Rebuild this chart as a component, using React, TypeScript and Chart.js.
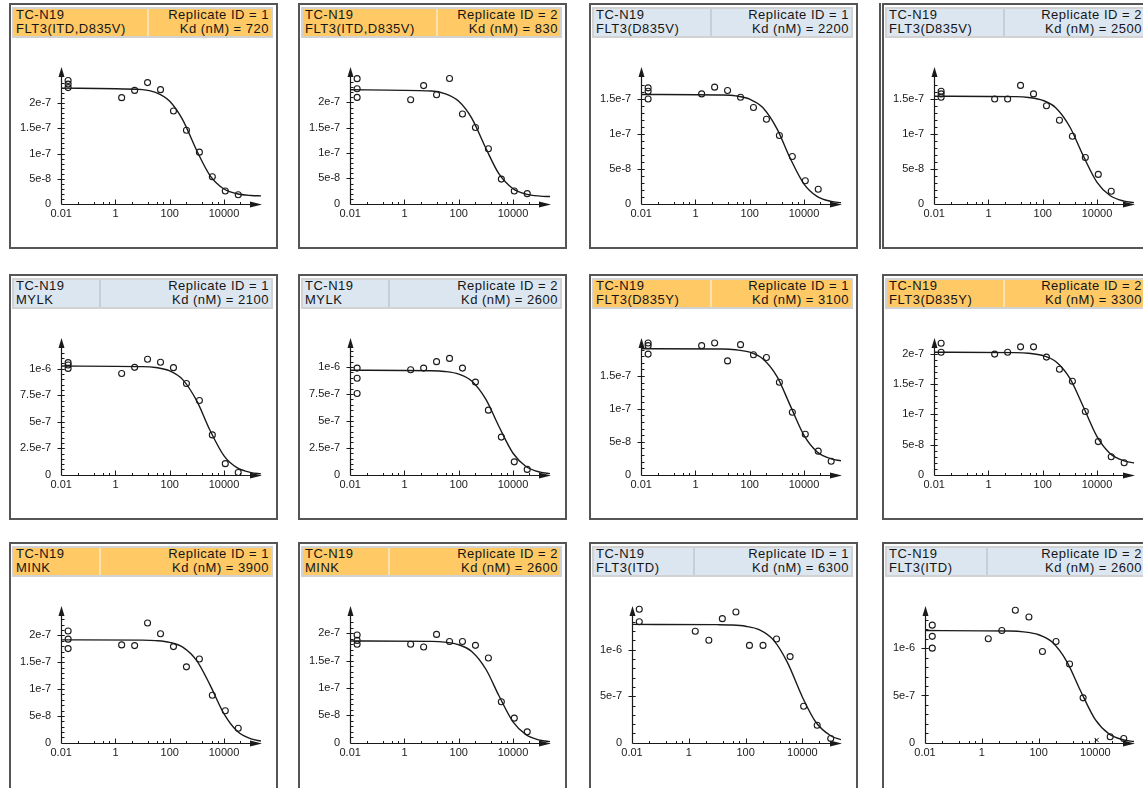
import React, { useEffect, useRef } from 'react';
import { Chart, registerables } from 'chart.js';

Chart.register(...registerables);

if (typeof document !== 'undefined') {
  document.body.style.margin = '0';
  document.body.style.overflow = 'hidden';
}

const FONT = '"Liberation Sans", Arial, sans-serif';
Chart.defaults.font.family = FONT;

// ---------- data ----------
const COMPOUND = 'TC-N19';
const GENES = [
  'FLT3(ITD,D835V)', 'FLT3(ITD,D835V)', 'FLT3(D835V)', 'FLT3(D835V)',
  'MYLK', 'MYLK', 'FLT3(D835Y)', 'FLT3(D835Y)',
  'MINK', 'MINK', 'FLT3(ITD)', 'FLT3(ITD)',
];
const REPLICATES = [1, 2, 1, 2, 1, 2, 1, 2, 1, 2, 1, 2];
const KD_NM = [720, 830, 2200, 2500, 2100, 2600, 3100, 3300, 3900, 2600, 6300, 2600];
const HIGHLIGHTED = [true, true, false, false, false, false, true, true, true, true, false, false];

// signal values are in units of 1e-7
const UNIT = 1e-7;
const CONTROL_X = 0.018;
const DOSES = [1.69, 5.08, 15.2, 45.7, 137, 412, 1235, 3704, 11111, 33333, 100000];
const CURVE_X = [0.01, 10, 30, 100, 300, 1000, 3000, 10000, 30000, 100000, 230000];
const X_TICKS = [0.01, 1, 100, 10000];
const X_MIN = 0.01;
const X_MAX = 230000;

const CONTROLS: number[][] = [
  [2.45, 2.38, 2.31],
  [2.47, 2.27, 2.10],
  [1.665, 1.617, 1.505],
  [1.617, 1.578, 1.529],
  [10.57, 10.35, 10.03],
  [9.9, 8.96, 7.55],
  [2.0, 1.959, 1.831],
  [2.18, 2.03],
  [2.082, 1.931, 1.755],
  [1.97, 1.87, 1.80],
  [14.36, 13.02],
  [12.43, 11.25, 10.0],
];

const SIGNALS: (number | null)[][] = [
  [2.11, 2.255, 2.41, 2.27, 1.845, 1.463, 1.027, 0.537, 0.255, 0.181, null],
  [2.053, 2.333, 2.153, 2.473, 1.773, 1.507, 1.087, 0.487, 0.253, 0.20, null],
  [1.578, 1.675, 1.626, 1.529, 1.383, 1.214, 0.981, 0.680, 0.33, 0.209, null],
  [1.505, 1.505, 1.70, 1.578, 1.408, 1.199, 0.971, 0.665, 0.422, 0.180, null],
  [9.55, 10.13, 10.89, 10.61, 10.10, 8.6, 7.01, 3.76, 1.05, 0.22, null],
  [9.75, 9.9, 10.5, 10.8, 9.9, 8.6, 6.0, 3.5, 1.2, 0.5, null],
  [1.959, 2.0, 1.728, 1.974, 1.821, 1.779, 1.405, 0.949, 0.615, 0.359, 0.205],
  [2.0, 2.03, 2.12, 2.12, 1.95, 1.75, 1.55, 1.05, 0.55, 0.3, 0.2],
  [1.824, 1.811, 2.233, 2.031, 1.792, 1.415, 1.56, 0.887, 0.597, 0.27, null],
  [1.8, 1.75, 1.98, 1.85, 1.85, 1.78, 1.55, 0.75, 0.45, 0.2, null],
  [12.0, 11.02, 13.35, 14.07, 10.47, 10.47, 11.16, 9.27, 3.93, 1.89, 0.47],
  [11.0, 11.86, 14.0, 13.29, 9.64, 10.71, 8.32, 4.75, null, 0.64, 0.46],
];

// excluded (x-marked) points: panel index, dose index, value
const EXCLUDED = [{ panel: 11, dose: 8, value: 0.29 }];

// fitted curves read at CURVE_X
const CURVES: number[][] = [
  [2.30, 2.27, 2.214, 2.038, 1.668, 1.051, 0.567, 0.294, 0.200, 0.165, 0.157],
  [2.25, 2.225, 2.176, 2.022, 1.69, 1.095, 0.594, 0.297, 0.192, 0.152, 0.143],
  [1.57, 1.562, 1.55, 1.502, 1.382, 1.079, 0.664, 0.283, 0.107, 0.034, 0.015],
  [1.545, 1.539, 1.527, 1.486, 1.38, 1.103, 0.702, 0.309, 0.119, 0.038, 0.017],
  [10.25, 10.2, 10.11, 9.79, 8.97, 6.94, 4.22, 1.78, 0.67, 0.21, 0.09],
  [9.7, 9.66, 9.59, 9.34, 8.70, 7.0, 4.5, 2.0, 0.77, 0.246, 0.109],
  [1.913, 1.908, 1.896, 1.86, 1.761, 1.493, 1.065, 0.598, 0.351, 0.242, 0.213],
  [2.03, 2.024, 2.013, 1.976, 1.876, 1.597, 1.145, 0.631, 0.354, 0.23, 0.196],
  [1.918, 1.912, 1.903, 1.87, 1.782, 1.527, 1.084, 0.539, 0.221, 0.072, 0.032],
  [1.86, 1.853, 1.839, 1.791, 1.668, 1.343, 0.863, 0.383, 0.148, 0.047, 0.021],
  [12.73, 12.7, 12.67, 12.53, 12.16, 10.99, 8.62, 4.93, 2.21, 0.755, 0.34],
  [11.86, 11.81, 11.72, 11.42, 10.64, 8.56, 5.5, 2.44, 0.945, 0.30, 0.133],
];

const Y_MAX = [2.70, 2.68, 1.95, 1.95, 12.8, 12.6, 2.06, 2.25, 2.53, 2.48, 14.6, 14.35];
const Y_TICKS: number[][] = [
  [0, 0.5, 1, 1.5, 2],
  [0, 0.5, 1, 1.5, 2],
  [0, 0.5, 1, 1.5],
  [0, 0.5, 1, 1.5],
  [0, 2.5, 5, 7.5, 10],
  [0, 2.5, 5, 7.5, 10],
  [0, 0.5, 1, 1.5],
  [0, 0.5, 1, 1.5, 2],
  [0, 0.5, 1, 1.5, 2],
  [0, 0.5, 1, 1.5, 2],
  [0, 5, 10],
  [0, 5, 10],
];

// ---------- layout / style ----------
const INK = '#1a1a1a';
const ORANGE = '#FFC966';
const ORANGE_DIV = '#FFE3AE';
const BLUE = '#DCE6F1';
const BLUE_DIV = '#C5CFDA';
const COL_LEFT = [9, 298, 589, 882];
const ROW_TOP = [3, 274, 542];
const ROW_H = [246, 246, 262];
const PANEL_W = 269;

function fmtY(v: number) {
  if (v === 0) return '0';
  return Number((v * UNIT).toPrecision(3)).toExponential();
}

const axisDecor = {
  id: 'axisDecor',
  afterDatasetsDraw(chart: any) {
    const { ctx, chartArea: a, scales } = chart;
    const xs = scales.x;
    const ys = scales.y;
    const idx = chart.options.plugins.axisDecor.panel as number;
    const L = Math.round(a.left) + 0.5;
    const B = Math.round(a.bottom) + 0.5;
    ctx.save();
    ctx.strokeStyle = INK;
    ctx.fillStyle = INK;
    ctx.lineWidth = 1.2;
    ctx.beginPath();
    ctx.moveTo(L, B);
    ctx.lineTo(L, a.top + 5);
    ctx.moveTo(L, B);
    ctx.lineTo(a.right - 6, B);
    ctx.stroke();
    // arrow heads
    ctx.beginPath();
    ctx.moveTo(L, a.top - 1);
    ctx.lineTo(L - 3, a.top + 9);
    ctx.lineTo(L + 3, a.top + 9);
    ctx.closePath();
    ctx.fill();
    ctx.beginPath();
    ctx.moveTo(a.right + 1, B);
    ctx.lineTo(a.right - 11, B - 3);
    ctx.lineTo(a.right - 11, B + 3);
    ctx.closePath();
    ctx.fill();
    // y ticks
    ctx.lineWidth = 1;
    const ticks = Y_TICKS[idx];
    const minor = (ticks[1] - ticks[0]) / 5;
    ctx.beginPath();
    for (let k = 1; ; k++) {
      const v = k * minor;
      const py = Math.round(ys.getPixelForValue(v)) + 0.5;
      if (py < a.top + 11) break;
      ctx.moveTo(L, py);
      ctx.lineTo(L + 3, py);
    }
    for (const t of ticks) {
      if (t === 0) continue;
      const py = Math.round(ys.getPixelForValue(t)) + 0.5;
      ctx.moveTo(L - 4, py);
      ctx.lineTo(L + 3, py);
    }
    // x ticks
    const mults = [4, 16, 35, 58];
    for (const m of X_TICKS) {
      const px = Math.round(xs.getPixelForValue(m)) + 0.5;
      if (m !== X_MIN) {
        ctx.moveTo(px, B);
        ctx.lineTo(px, B - 5);
      }
      for (const f of mults) {
        const q = Math.round(xs.getPixelForValue(m * f)) + 0.5;
        if (q > a.right - 13) continue;
        ctx.moveTo(q, B);
        ctx.lineTo(q, B - 2.5);
      }
    }
    ctx.stroke();
    ctx.restore();
  },
};

function buildConfig(i: number): any {
  const pts: { x: number; y: number }[] = [];
  CONTROLS[i].forEach((v) => pts.push({ x: CONTROL_X, y: v }));
  SIGNALS[i].forEach((v, k) => {
    if (v !== null) pts.push({ x: DOSES[k], y: v });
  });
  const excl = EXCLUDED.filter((e) => e.panel === i).map((e) => ({ x: DOSES[e.dose], y: e.value }));
  const curve = CURVE_X.map((x, k) => ({ x, y: CURVES[i][k] }));
  return {
    type: 'scatter',
    data: {
      datasets: [
        {
          data: pts,
          pointStyle: 'circle',
          pointRadius: 3,
          pointBorderWidth: 1.1,
          pointBorderColor: INK,
          pointBackgroundColor: 'rgba(0,0,0,0)',
          clip: false,
        },
        {
          data: excl,
          pointStyle: 'crossRot',
          pointRadius: 3,
          pointBorderWidth: 1,
          pointBorderColor: INK,
          clip: false,
        },
        {
          data: curve,
          showLine: true,
          borderColor: INK,
          borderWidth: 1.4,
          pointRadius: 0,
          cubicInterpolationMode: 'monotone',
          fill: false,
        },
      ],
    },
    options: {
      responsive: false,
      animation: false,
      events: [],
      layout: { padding: { left: -1, right: 15, top: 27, bottom: 16 } },
      plugins: {
        legend: { display: false },
        tooltip: { enabled: false },
        axisDecor: { panel: i },
      },
      scales: {
        x: {
          type: 'logarithmic',
          min: X_MIN,
          max: X_MAX,
          grid: { display: false, drawTicks: false },
          border: { display: false },
          afterBuildTicks: (s: any) => {
            s.ticks = X_TICKS.map((v) => ({ value: v }));
          },
          ticks: {
            autoSkip: false,
            maxRotation: 0,
            padding: 4,
            color: INK,
            font: { size: 11, family: FONT },
            callback: (v: any) => String(v),
          },
        },
        y: {
          type: 'linear',
          min: 0,
          max: Y_MAX[i],
          grid: { display: false, drawTicks: false },
          border: { display: false },
          afterBuildTicks: (s: any) => {
            s.ticks = Y_TICKS[i].map((v) => ({ value: v }));
          },
          ticks: {
            autoSkip: false,
            padding: 10,
            color: INK,
            font: { size: 11, family: FONT },
            callback: (v: any) => fmtY(Number(v)),
          },
        },
      },
    },
    plugins: [axisDecor],
  };
}

function Panel({ i }: { i: number }) {
  const ref = useRef<HTMLCanvasElement>(null);
  useEffect(() => {
    const chart = new Chart(ref.current as HTMLCanvasElement, buildConfig(i));
    return () => chart.destroy();
  }, [i]);
  const row = Math.floor(i / 4);
  const col = i % 4;
  const bg = HIGHLIGHTED[i] ? ORANGE : BLUE;
  const div = HIGHLIGHTED[i] ? ORANGE_DIV : BLUE_DIV;
  const cell: React.CSSProperties = { padding: '0 2px', verticalAlign: 'top', whiteSpace: 'nowrap' };
  const lines: React.CSSProperties = { lineHeight: '13.5px', marginTop: -1 };
  return (
    <div
      style={{
        position: 'absolute',
        left: COL_LEFT[col],
        top: ROW_TOP[row],
        width: PANEL_W,
        height: ROW_H[row],
        border: '2px solid #555',
        boxSizing: 'border-box',
        background: '#fff',
      }}
    >
      <table
        style={{
          position: 'absolute',
          left: 1,
          top: 2,
          width: 261,
          height: 31,
          borderCollapse: 'separate',
          borderSpacing: 0,
          background: bg,
          border: '2px solid #d2d2d2',
          boxSizing: 'border-box',
          fontFamily: FONT,
          fontSize: 13,
          letterSpacing: '0.5px',
          color: '#151515',
        }}
      >
        <tbody>
          <tr>
            <td style={cell}>
              <div style={lines}>
                {COMPOUND}
                <br />
                {GENES[i]}
              </div>
            </td>
            <td style={{ ...cell, textAlign: 'right', borderLeft: `2px solid ${div}` }}>
              <div style={lines}>
                Replicate ID = {REPLICATES[i]}
                <br />
                Kd (nM) = {KD_NM[i]}
              </div>
            </td>
          </tr>
        </tbody>
      </table>
      <canvas
        ref={ref}
        width={265}
        height={200}
        style={{ position: 'absolute', left: 0, top: 36, width: 265, height: 200 }}
      />
    </div>
  );
}

export default function App() {
  return (
    <div style={{ position: 'relative', width: 1143, height: 788, overflow: 'hidden', background: '#fff' }}>
      <div style={{ position: 'absolute', left: 879, top: 3, width: 2, height: 246, background: '#555' }} />
      {GENES.map((_, i) => (
        <Panel key={i} i={i} />
      ))}
    </div>
  );
}
